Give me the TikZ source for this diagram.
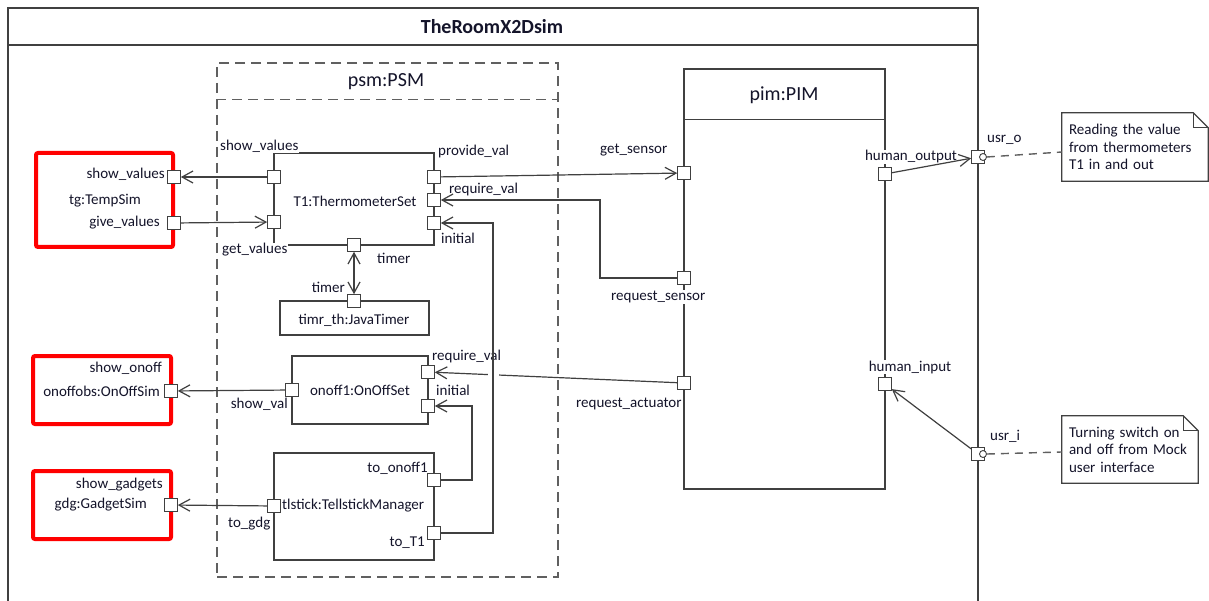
\documentclass[tikz,border=0pt]{standalone}
\usepackage{fontspec}
\setmainfont{Carlito}
\usetikzlibrary{arrows.meta}
\definecolor{linec}{HTML}{404040}
\definecolor{dashc}{HTML}{606060}
\definecolor{redc}{HTML}{FF0000}
\definecolor{txt}{HTML}{14142A}
\tikzset{
  lbl/.style={font=\fontsize{15}{17.5}\selectfont, text=txt, inner sep=1pt},
  lblw/.style={lbl, fill=white},
  hdr/.style={font=\fontsize{20}{22}\selectfont, text=txt},
  port/.style={draw=linec, fill=white, minimum size=12.5pt, inner sep=0pt, line width=1.1pt},
  conn/.style={draw=linec, line width=1.2pt},
  arr/.style={conn, -{Straight Barb[length=11pt,width=12pt]}},
  dbl/.style={conn, {Straight Barb[length=11pt,width=12pt]}-{Straight Barb[length=11pt,width=12pt]}},
  dashconn/.style={draw=dashc, line width=1.4pt, dash pattern=on 8pt off 6pt},
  simbox/.style={draw=redc, line width=4pt, rounded corners=2pt, inner sep=0pt},
  partbox/.style={draw=linec, line width=1.2pt, inner sep=0pt},
  psmbox/.style={draw=dashc, line width=1.4pt, dash pattern=on 10pt off 6pt, inner sep=0pt},
  framec/.style={draw=linec, line width=1.5pt},
  notebox/.style={lbl, inner xsep=7pt, inner ysep=0pt, align=left},
  lollip/.style={circle, draw=linec, fill=white, minimum size=7pt, inner sep=0pt, line width=0.9pt},
}
\begin{document}
\begin{tikzpicture}[x=1pt,y=-1pt]
\useasboundingbox[fill=white] (0,0) rectangle (1209,601);

% outer frame
\draw[framec] (8,603) -- (8,8) -- (978,8) -- (978,603);
\draw[framec] (8,45) -- (978,45);
\node[hdr, font=\bfseries\fontsize{20}{22}\selectfont] (title) at (492,27) {TheRoomX2Dsim};

% PSM container
\node[psmbox, minimum width=341pt, minimum height=514pt] (psm) at (387.5,320) {};
\draw[psmbox] ([yshift=-37pt]psm.north west) -- ([yshift=-37pt]psm.north east);
\node[hdr] (psmlbl) at (386,82) {psm:PSM};

% PIM
\node[partbox, minimum width=201pt, minimum height=420pt] (pim) at (784.5,279) {};
\draw[partbox] ([yshift=-51pt]pim.north west) -- ([yshift=-51pt]pim.north east);
\node[hdr] (pimlbl) at (784,95) {pim:PIM};

% red simulators
\node[simbox, minimum width=137pt, minimum height=94pt] (tg) at (104.5,200) {};
\node[simbox, minimum width=138pt, minimum height=68pt] (onsimbox) at (102,390) {};
\node[simbox, minimum width=138pt, minimum height=68pt] (gdgbox) at (102,505) {};

% inner parts
\node[partbox, minimum width=160pt, minimum height=92pt, lbl] (t1) at (354,199) {};
\node[lbl] (t1lbl) at (355,201) {T1:ThermometerSet};
\node[partbox, minimum width=149pt, minimum height=34pt] (jt) at (354.5,318) {};
\node[lbl] (jtlbl) at (354,320) {timr\_th:JavaTimer};
\node[partbox, minimum width=136pt, minimum height=68pt] (onoff) at (360,390) {};
\node[lbl] (onofflbl) at (360,390) {onoff1:OnOffSet};
\node[partbox, minimum width=160pt, minimum height=107pt] (tl) at (354,506.5) {};
\node[lbl, anchor=west] (tllbl) at (281,506) {tlstick:TellstickManager};

% labels
\node[lbl, anchor=east] at (166,174) {show\_values};
\node[lbl] at (105,201) {tg:TempSim};
\node[lbl, anchor=east] at (161,223) {give\_values};
\node[lbl, anchor=east] at (163,368) {show\_onoff};
\node[lbl, anchor=east] at (161,391) {onoffobs:OnOffSim};
\node[lbl, anchor=east] at (164,485) {show\_gadgets};
\node[lbl, anchor=east] at (148,505) {gdg:GadgetSim};

\node[lblw, anchor=west] at (219,146) {show\_values};
\node[lblw, anchor=west] at (221,250) {get\_values};
\node[lbl, anchor=west] at (437,152) {provide\_val};
\node[lbl, anchor=west] at (448,190) {require\_val};
\node[lbl, anchor=west] at (440,238) {initial};
\node[lbl, anchor=west] at (376,258) {timer};
\node[lbl, anchor=east] at (346,287) {timer};

\node[lbl, anchor=west] at (431,357) {require\_val};
\node[lbl, anchor=west] at (435,390) {initial};
\node[lbl, anchor=east] at (289,404) {show\_val};
\node[lbl, anchor=east] at (429,468) {to\_onoff1};
\node[lbl, anchor=east] at (426,543) {to\_T1};
\node[lbl, anchor=west] at (227,524) {to\_gdg};

\node[lbl, anchor=west] at (599,150) {get\_sensor};
\node[lblw, anchor=west] at (610,297) {request\_sensor};
\node[lbl, anchor=west] at (575,404) {request\_actuator};
\node[lblw] at (911,157) {human\_output};
\node[lblw] at (910,367) {human\_input};
\node[lbl, anchor=west] at (986,140) {usr\_o};
\node[lbl, anchor=west] at (989,436) {usr\_i};

% notes
\node[notebox, text width=132pt, minimum width=146pt, minimum height=68pt] (n1) at (1135,147)
  {Reading the value\\from thermometers\\T1 in and out};
\draw[partbox] (n1.south west) -- (n1.north west) -- ([xshift=-15pt]n1.north east)
  -- ([yshift=-15pt]n1.north east) -- (n1.south east) -- cycle;
\draw[partbox] ([xshift=-15pt]n1.north east) -- ([xshift=-15pt,yshift=-15pt]n1.north east) -- ([yshift=-15pt]n1.north east);
\node[notebox, text width=122pt, minimum width=136pt, minimum height=67pt] (n2) at (1130,449.5)
  {Turning switch on\\and off from Mock\\user interface};
\draw[partbox] (n2.south west) -- (n2.north west) -- ([xshift=-15pt]n2.north east)
  -- ([yshift=-15pt]n2.north east) -- (n2.south east) -- cycle;
\draw[partbox] ([xshift=-15pt]n2.north east) -- ([xshift=-15pt,yshift=-15pt]n2.north east) -- ([yshift=-15pt]n2.north east);

% ports
\node[port] (tgshow) at (174,177) {};
\node[port] (tggive) at (174,223) {};
\node[port] (t1show) at (274,177) {};
\node[port] (t1get) at (274,222) {};
\node[port] (t1prov) at (434,177) {};
\node[port] (t1req) at (434,200) {};
\node[port] (t1init) at (434,223) {};
\node[port] (t1timer) at (354,245) {};
\node[port] (jtimer) at (354,301) {};
\node[port] (onsim) at (171,391) {};
\node[port] (gdgp) at (171,505) {};
\node[port] (onshow) at (292,390) {};
\node[port] (onreq) at (428,372) {};
\node[port] (oninit) at (428,406) {};
\node[port] (tlgdg) at (274,506) {};
\node[port] (tlon) at (434,480) {};
\node[port] (tlT1) at (434,533) {};
\node[port] (pimgs) at (684,173) {};
\node[port] (pimrs) at (684,278) {};
\node[port] (pimra) at (684,383) {};
\node[port] (pimho) at (885,174) {};
\node[port] (pimhi) at (885,384) {};
\node[port] (usro) at (978,157) {};
\node[lollip] (usrocirc) at (983,157) {};
\node[port] (usri) at (978,454) {};
\node[lollip] (usricirc) at (983,454) {};

% connectors
\draw[arr] (t1show) -- (tgshow);
\draw[arr] (tggive) -- (t1get);
\draw[dbl] (t1timer) -- (jtimer);
\draw[arr] (t1prov) -- (pimgs);
\draw[arr] (pimrs.west) -- (600,278) -- (600,200) -- (t1req.east);
\draw[arr] (onshow) -- (onsim);
\draw[arr] (tlgdg) -- (gdgp);
\draw[arr] (pimra) -- (onreq);
\draw[white, line width=11pt] (493,368) -- (493,382);
\draw[arr] (tlT1.east) -- (493,533) -- (493,223) -- (t1init.east);
\draw[arr] (tlon.east) -- (472,480) -- (472,406) -- (oninit.east);
\draw[arr] (pimho) -- (usro);
\draw[arr] (usri) -- (pimhi);
\draw[dashconn] (usrocirc.east) -- ([yshift=-5pt]n1.west);
\draw[dashconn] (usricirc.east) -- ([yshift=-2.5pt]n2.west);
\end{tikzpicture}
\end{document}
